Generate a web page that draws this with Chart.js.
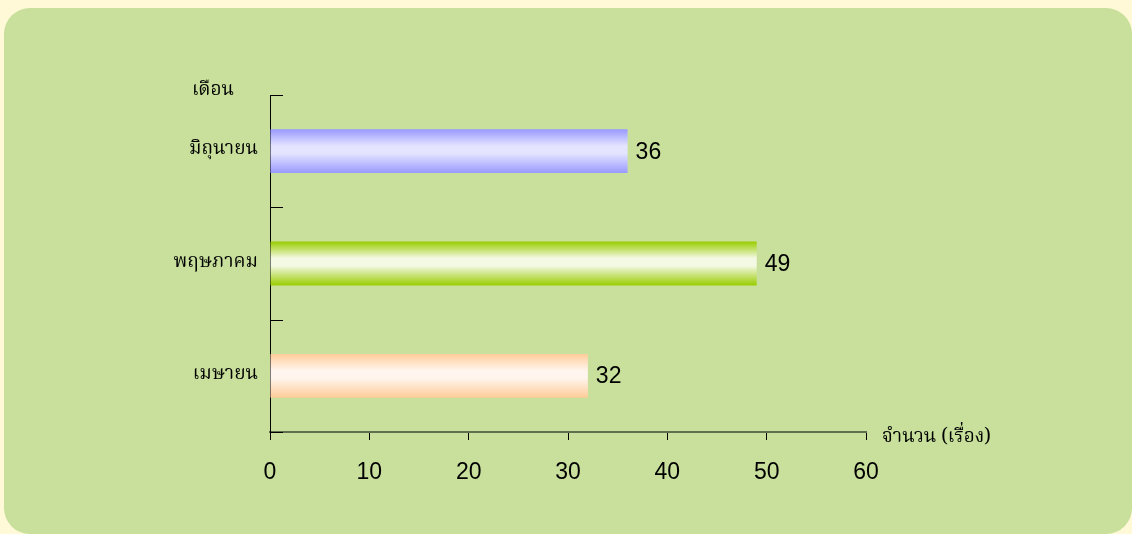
<!DOCTYPE html>
<html>
<head>
<meta charset="utf-8">
<script src="https://cdn.jsdelivr.net/npm/chart.js@4"></script>
<style>
  html, body { margin: 0; padding: 0; background: #fff9d8; }
  .panel {
    position: absolute; left: 4px; top: 8px; width: 1128px; height: 526px;
    background: #c8e09c; border-radius: 26px;
  }
  .wrap { position: absolute; left: 0; top: 0; width: 1132px; height: 534px; }
</style>
</head>
<body>
<div class="panel"></div>
<div class="wrap"><canvas id="myGraph" width="1132" height="534"></canvas></div>
<script>
// data, top to bottom
const months = ["มิถุนายน", "พฤษภาคม", "เมษายน"];
const counts = [36, 49, 32];
const edgeColors = ["#9999ff", "#99cc00", "#ffcc99"];
const lightColors = ["#e4e4ff", "#f4f9e4", "#fff5ee"];
const xMin = 0, xMax = 60, xStep = 10;
const yTitle = "เดือน";
const xTitle = "จำนวน (เรื่อง)";

const thaiFont = '"Noto Serif Thai", "Noto Sans Thai", "Tlwg Typo", serif';
const numFont = '"Liberation Sans", Arial, sans-serif';

// gradient fill on each bar + ticks, titles and value labels
const extras = {
  id: "extras",
  beforeDatasetsDraw(chart) {
    const ctx = chart.ctx;
    const meta = chart.getDatasetMeta(0);
    meta.data.forEach((bar, i) => {
      const top = bar.y - bar.height / 2;
      const bottom = bar.y + bar.height / 2;
      const g = ctx.createLinearGradient(0, top, 0, bottom);
      g.addColorStop(0, edgeColors[i]);
      g.addColorStop(0.38, lightColors[i]);
      g.addColorStop(0.55, lightColors[i]);
      g.addColorStop(1, edgeColors[i]);
      bar.options.backgroundColor = g;
    });
  },
  afterDraw(chart) {
    const ctx = chart.ctx;
    const yScale = chart.scales.y;
    const xScale = chart.scales.x;
    const area = chart.chartArea;
    ctx.save();

    // inward ticks on the category axis, at band boundaries
    ctx.strokeStyle = "#000";
    ctx.lineWidth = 1;
    for (let i = 0; i <= months.length; i++) {
      const y = Math.round(yScale.getPixelForValue(i - 0.5)) + 0.5;
      ctx.beginPath();
      ctx.moveTo(area.left, y);
      ctx.lineTo(area.left + 13, y);
      ctx.stroke();
    }

    // value labels
    ctx.fillStyle = "#000";
    ctx.font = "23px " + numFont;
    ctx.textAlign = "left";
    ctx.textBaseline = "middle";
    chart.getDatasetMeta(0).data.forEach((bar, i) => {
      ctx.fillText(String(counts[i]), bar.x + 8, bar.y + 1);
    });

    // axis titles
    ctx.font = "19px " + thaiFont;
    ctx.textAlign = "center";
    ctx.textBaseline = "middle";
    ctx.fillText(yTitle, area.left - 57, area.top - 3);
    ctx.textAlign = "left";
    ctx.fillText(xTitle, xScale.getPixelForValue(xMax) + 16, area.bottom + 7);
    ctx.restore();
  }
};

const ctx = document.getElementById("myGraph").getContext("2d");
new Chart(ctx, {
  type: "bar",
  data: {
    labels: months,
    datasets: [{
      data: counts,
      backgroundColor: edgeColors,
      borderWidth: 0,
      categoryPercentage: 1,
      barPercentage: 0.39
    }]
  },
  options: {
    indexAxis: "y",
    responsive: false,
    animation: false,
    layout: { padding: { top: 95, right: 266, bottom: 52, left: 0 } },
    plugins: { legend: { display: false }, tooltip: { enabled: false } },
    scales: {
      x: {
        min: xMin,
        max: xMax,
        afterFit(scale) { scale.height = 50; },
        border: { color: "#5e6e4e", width: 2 },
        grid: { drawOnChartArea: false, tickLength: 8, color: "#000", tickWidth: 1 },
        ticks: {
          stepSize: xStep,
          color: "#000",
          padding: 19,
          font: { family: numFont, size: 23 }
        }
      },
      y: {
        afterFit(scale) { scale.width = 270; },
        border: { color: "#000", width: 1 },
        grid: { display: false },
        ticks: {
          color: "#000",
          padding: 4,
          font: { family: thaiFont, size: 19 }
        }
      }
    }
  },
  plugins: [extras]
});
</script>
</body>
</html>
